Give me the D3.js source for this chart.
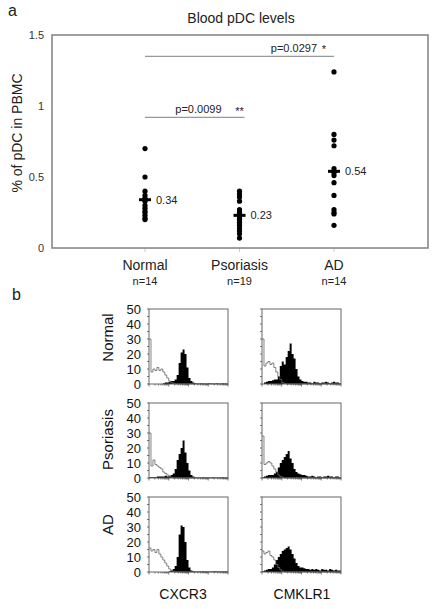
<!DOCTYPE html>
<html><head><meta charset="utf-8">
<script src="https://cdn.jsdelivr.net/npm/d3@7"></script>
<style>body{margin:0;background:#fff}svg{display:block;font-family:"Liberation Sans",Arial,sans-serif}</style>
</head><body><svg id="c" width="438" height="609"></svg>
<script>
// ---------- Panel a data ----------
const groups = ["Normal", "Psoriasis", "AD"];
const groupN = ["n=14", "n=19", "n=14"];
const normalVals = [0.70, 0.50, 0.40, 0.37, 0.35, 0.34, 0.33, 0.30, 0.28, 0.26, 0.25, 0.23, 0.21, 0.20];
const psoriasisVals = [0.40, 0.38, 0.36, 0.33, 0.27, 0.25, 0.24, 0.23, 0.22, 0.21, 0.20, 0.19, 0.18, 0.17, 0.16, 0.14, 0.12, 0.10, 0.07];
const adVals = [1.24, 0.80, 0.76, 0.72, 0.56, 0.54, 0.51, 0.46, 0.37, 0.27, 0.25, 0.24, 0.16, 0.53];
const groupMeans = [0.34, 0.23, 0.54];
const yTickVals = [0, 0.5, 1, 1.5];
const compFrom = ["Normal", "Normal"];
const compTo = ["AD", "Psoriasis"];
const compLevel = [1.35, 0.92];
const compP = ["p=0.0297", "p=0.0099"];
const compStar = ["*", "**"];

// ---------- Panel b data (flow histograms, 40 bins, % of max) ----------
const histRows = ["Normal", "Psoriasis", "AD"];
const histCols = ["CXCR3", "CMKLR1"];
const histTicks = [0, 10, 20, 30, 40, 50];
const cxcr3NormalStain = [0,0,0,0,0,0,0,0.5,1,1,1.5,2,2,3,6,14,21,23,20,11,4,2,1,0.5,0.3,0.3,0.5,0.3,0.3,0.3,0.5,0.3,0.3,0.3,0.5,0.3,0.3,0.5,0.3,0.3];
const cxcr3NormalIso   = [30,8,10,9,11,9,10,8,6,4,2,1,0.5,0,0,0,0,0,0,0,0,0,0,0,0,0,0,0,0,0,0,0,0,0,0,0,0,0,0,0];
const cmklr1NormalStain = [0,1,1.5,2,2,2.5,3,3,5,12,15,13,18,22,27,20,17,10,5,3,2,1.5,1.5,1,1,0.5,1.5,1,1,0.5,1,1,1.5,1,0.5,1,1.5,1,1,0.5];
const cmklr1NormalIso   = [30,12,14,15,13,14,11,8,5,3,1,0.5,0,0,0,0,0,0,0,0,0,0,0,0,0,0,0,0,0,0,0,0,0,0,0,0,0,0,0,0];
const cxcr3PsoStain = [0.5,0.5,0.5,0.5,1,1,1,1,1.5,1,1.5,2,3,6,12,16,20,25,17,10,5,2,1,0.5,0.3,0.3,0.3,0.5,0.3,0.3,0.3,0.3,0.5,0.3,0.3,0.3,0.3,0.5,0.3,0.3];
const cxcr3PsoIso   = [30,8,12,9,8,7,6,4,3,2,1,0.5,0,0,0,0,0,0,0,0,0,0,0,0,0,0,0,0,0,0,0,0,0,0,0,0,0,0,0,0];
const cmklr1PsoStain = [0.5,1,1.5,2,2,2,3,4,7,10,12,14,16,18,13,10,6,4,3,2.5,2,2,1.5,1,1,1.5,1,0.5,1,1,0.5,1,1,1.5,1,1,0.5,1,1,0.5];
const cmklr1PsoIso   = [28,9,10,11,10,8,6,4,2,1,0.5,0,0,0,0,0,0,0,0,0,0,0,0,0,0,0,0,0,0,0,0,0,0,0,0,0,0,0,0,0];
const cxcr3AdStain = [0,0,0,0,0,0,0,0,0,0,0.5,1,2,4,10,25,31,30,20,8,3,1,0.5,0.3,0.3,0.3,0.3,0.5,0.3,0.3,0.3,0.3,0.3,0.5,0.3,0.3,0.3,0.3,0.3,0.3];
const cxcr3AdIso   = [16,14,15,13,15,12,10,8,6,4,2,1,0.5,0,0,0,0,0,0,0,0,0,0,0,0,0,0,0,0,0,0,0,0,0,0,0,0,0,0,0];
const cmklr1AdStain = [0.5,1,1.5,2,2,3,5,8,10,12,14,15,16,17,15,12,9,6,4,3,3,2.5,2,2,1.5,2,1.5,2,1.5,1,2,1.5,1.5,1,2,1.5,1,1.5,1,1];
const cmklr1AdIso   = [14,12,13,14,11,10,8,5,3,1.5,0.5,0,0,0,0,0,0,0,0,0,0,0,0,0,0,0,0,0,0,0,0,0,0,0,0,0,0,0,0,0];

const histStain = [[cxcr3NormalStain, cmklr1NormalStain],[cxcr3PsoStain, cmklr1PsoStain],[cxcr3AdStain, cmklr1AdStain]];
const histIso = [[cxcr3NormalIso, cmklr1NormalIso],[cxcr3PsoIso, cmklr1PsoIso],[cxcr3AdIso, cmklr1AdIso]];

const svg = d3.select("#c");
svg.append("rect").attr("width",438).attr("height",609).attr("fill","#fff");

// ---------- Panel a ----------
const pa = {l:52, r:428, t:35, b:248};
const y = d3.scaleLinear().domain([0,1.5]).range([pa.b, pa.t]);
const x = d3.scalePoint().domain(groups).range([145, 334]);

svg.append("text").attr("x",8).attr("y",16).attr("font-size",16).attr("fill","#222").text("a");
svg.append("text").attr("x",241).attr("y",23).attr("text-anchor","middle").attr("font-size",14).attr("fill","#222").text("Blood pDC levels");

svg.selectAll(".ct").data(groups).join("line")
  .attr("x1",d=>x(d)).attr("x2",d=>x(d)).attr("y1",pa.b).attr("y2",pa.b+4)
  .attr("stroke","#ccc").attr("stroke-width",1);

svg.append("rect").attr("x",pa.l).attr("y",pa.t).attr("width",pa.r-pa.l).attr("height",pa.b-pa.t)
  .attr("fill","none").attr("stroke","#808080").attr("stroke-width",1.5);

svg.selectAll(".yt").data(yTickVals).join("text")
  .attr("x",44).attr("y",d=>y(d)+4).attr("text-anchor","end").attr("font-size",11).attr("fill","#333")
  .text(d=>d3.format("~g")(d));

svg.append("text").attr("transform","translate(22,133) rotate(-90)").attr("text-anchor","middle")
  .attr("font-size",14).attr("fill","#222").text("% of pDC in PBMC");

compFrom.forEach((f,i)=>{
  const yy = y(compLevel[i]);
  const x1 = x(f), x2 = x(compTo[i]) + (i===1?5:0);
  svg.append("line").attr("x1",x1).attr("x2",x2).attr("y1",yy).attr("y2",yy).attr("stroke","#999").attr("stroke-width",1.2);
  svg.append("text").attr("x", i===0? x2-17 : x2-23).attr("y",yy-4.5).attr("text-anchor","end")
    .attr("font-size",11).attr("fill","#222").text(compP[i]);
  svg.append("text").attr("x", i===0? x2-10 : x2-5).attr("y",yy-(i===0?3:2)).attr("text-anchor","middle")
    .attr("font-size",11).attr("fill","#222").text(compStar[i]);
});

const allVals = [normalVals, psoriasisVals, adVals];
groups.forEach((g,i)=>{
  svg.selectAll(".pt"+i).data(allVals[i]).join("circle")
    .attr("cx",x(g)).attr("cy",d=>y(d)).attr("r",2.6).attr("fill","#000");
  svg.append("rect").attr("x",x(g)-6).attr("y",y(groupMeans[i])-1.5).attr("width",12).attr("height",3).attr("fill","#000");
  svg.append("text").attr("x",x(g)+11).attr("y",y(groupMeans[i])+4).attr("font-size",11).attr("fill","#222")
    .text(d3.format(".2f")(groupMeans[i]));
  svg.append("text").attr("x",x(g)).attr("y",270).attr("text-anchor","middle").attr("font-size",14).attr("fill","#222").text(g);
  svg.append("text").attr("x",x(g)).attr("y",285).attr("text-anchor","middle").attr("font-size",11).attr("fill","#222").text(groupN[i]);
});

// ---------- Panel b ----------
svg.append("text").attr("x",12).attr("y",300).attr("font-size",16).attr("fill","#222").text("b");
const colX = [149, 262], rowY = [309, 403, 497], pw = 79, ph = 75;
const nb = 40;
const logX = d3.scaleLog().domain([1,10000]);
const minorTicks = [];
[1,10,100,1000].forEach(dec=>{ for(let k=1;k<10;k++) minorTicks.push(dec*k); });
minorTicks.push(10000);

histRows.forEach((rname,ri)=>{
  histCols.forEach((cname,ci)=>{
    const x0 = colX[ci], y0 = rowY[ri];
    const hx = d3.scaleLinear().domain([0,nb]).range([x0, x0+pw]);
    const hy = d3.scaleLinear().domain([0,50]).range([y0+ph, y0]);
    const lx = logX.copy().range([x0, x0+pw]);
    const g = svg.append("g");
    const stain = histStain[ri][ci].concat([histStain[ri][ci][nb-1]]);
    const iso = histIso[ri][ci].concat([histIso[ri][ci][nb-1]]);
    g.append("path").datum(stain)
      .attr("d", d3.area().x((d,i)=>hx(i)).y0(hy(0)).y1(d=>hy(d)).curve(d3.curveStepAfter))
      .attr("fill","#000");
    g.append("path").datum(iso)
      .attr("d", d3.line().x((d,i)=>hx(i)).y(d=>hy(d)).curve(d3.curveStepAfter))
      .attr("fill","none").attr("stroke","#666").attr("stroke-width",0.8);
    g.append("rect").attr("x",x0).attr("y",y0).attr("width",pw).attr("height",ph)
      .attr("fill","none").attr("stroke","#666").attr("stroke-width",1);
    g.selectAll(".lt").data(d3.range(0,51,5)).join("line")
      .attr("x1",x0).attr("x2",x0-2).attr("y1",d=>hy(d)).attr("y2",d=>hy(d)).attr("stroke","#444").attr("stroke-width",0.7);
    g.selectAll(".bt").data(minorTicks).join("line")
      .attr("x1",d=>lx(d)).attr("x2",d=>lx(d)).attr("y1",y0+ph).attr("y2",d=>y0+ph+(Math.log10(d)%1===0?2.5:1.5))
      .attr("stroke","#444").attr("stroke-width",0.7);
    if(ci===0){
      g.selectAll(".ht").data(histTicks).join("text")
        .attr("x",x0-8).attr("y",d=>hy(d)+4.5).attr("text-anchor","end").attr("font-size",13).attr("fill","#111")
        .text(d=>d);
    }
  });
  svg.append("text").attr("transform",`translate(113,${rowY[ri]+ph/2 - (ri===0?9:ri===1?1:10)}) rotate(-90)`)
    .attr("text-anchor","middle").attr("font-size",15).attr("fill","#111").text(rname);
});
histCols.forEach((c,ci)=>{
  svg.append("text").attr("x",[183,302][ci]).attr("y",599).attr("text-anchor","middle").attr("font-size",14).attr("fill","#111").text(c);
});
</script></body></html>
